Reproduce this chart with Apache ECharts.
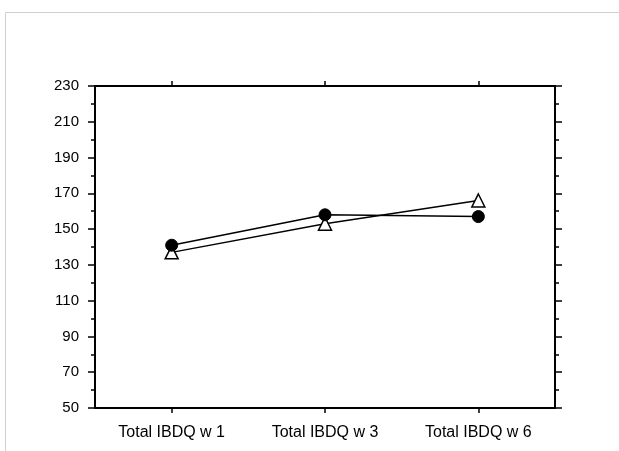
<!DOCTYPE html>
<html>
<head>
<meta charset="utf-8">
<script src="https://cdn.jsdelivr.net/npm/echarts@6/dist/echarts.min.js"></script>
<style>
  html, body { margin: 0; padding: 0; background: #fff; }
  #chart { width: 619px; height: 451px; }
</style>
</head>
<body>
<div id="chart"></div>
<script>
const categories = ['Total IBDQ w 1', 'Total IBDQ w 3', 'Total IBDQ w 6'];
const circleValues = [141, 158, 157];
const triangleValues = [137, 153, 166];

const chart = echarts.init(document.getElementById('chart'));
const font = 'Liberation Sans, Arial, sans-serif';
const lineStyle = { color: '#000', width: 2 };

const yBase = {
  type: 'value', min: 50, max: 230, interval: 20,
  axisLine: { show: true, lineStyle: lineStyle },
  axisTick: { show: true, inside: false, length: 7, lineStyle: { color: '#000', width: 1.5 } },
  minorTick: { show: true, splitNumber: 2, length: 4, lineStyle: { color: '#000', width: 1.5 } },
  splitLine: { show: false }
};
const xBase = {
  type: 'category', data: categories, boundaryGap: true,
  axisLine: { show: true, lineStyle: lineStyle },
  axisTick: { show: true, inside: false, length: 5, alignWithLabel: true, interval: 0, lineStyle: { color: '#000', width: 1.5 } },
  splitLine: { show: false }
};

chart.setOption({
  animation: false,
  backgroundColor: '#fff',
  graphic: [{
    type: 'rect',
    shape: { x: 5.5, y: 12.5, width: 700, height: 500 },
    style: { fill: 'none', stroke: '#cfcfcf', lineWidth: 1 },
    silent: true
  }],
  grid: { left: 95, right: 64, top: 86, bottom: 43 },
  xAxis: [
    Object.assign({}, xBase, {
      position: 'bottom',
      axisLabel: { color: '#000', fontFamily: font, fontSize: 16, margin: 17, interval: 0 }
    }),
    Object.assign({}, xBase, {
      position: 'top',
      axisLabel: { show: false }
    })
  ],
  yAxis: [
    Object.assign({}, yBase, {
      position: 'left',
      axisLabel: { color: '#000', fontFamily: font, fontSize: 15, margin: 16 }
    }),
    Object.assign({}, yBase, {
      position: 'right',
      axisLabel: { show: false }
    })
  ],
  series: [
    {
      type: 'line', data: triangleValues, xAxisIndex: 0, yAxisIndex: 0,
      symbol: 'triangle', symbolSize: 13,
      itemStyle: { color: '#fff', borderColor: '#000', borderWidth: 1.5 },
      lineStyle: { color: '#000', width: 1.5 },
      z: 2
    },
    {
      type: 'line', data: circleValues, xAxisIndex: 0, yAxisIndex: 0,
      symbol: 'circle', symbolSize: 12,
      itemStyle: { color: '#000', borderColor: '#000', borderWidth: 1 },
      lineStyle: { color: '#000', width: 1.5 },
      z: 3
    }
  ]
});
</script>
</body>
</html>
